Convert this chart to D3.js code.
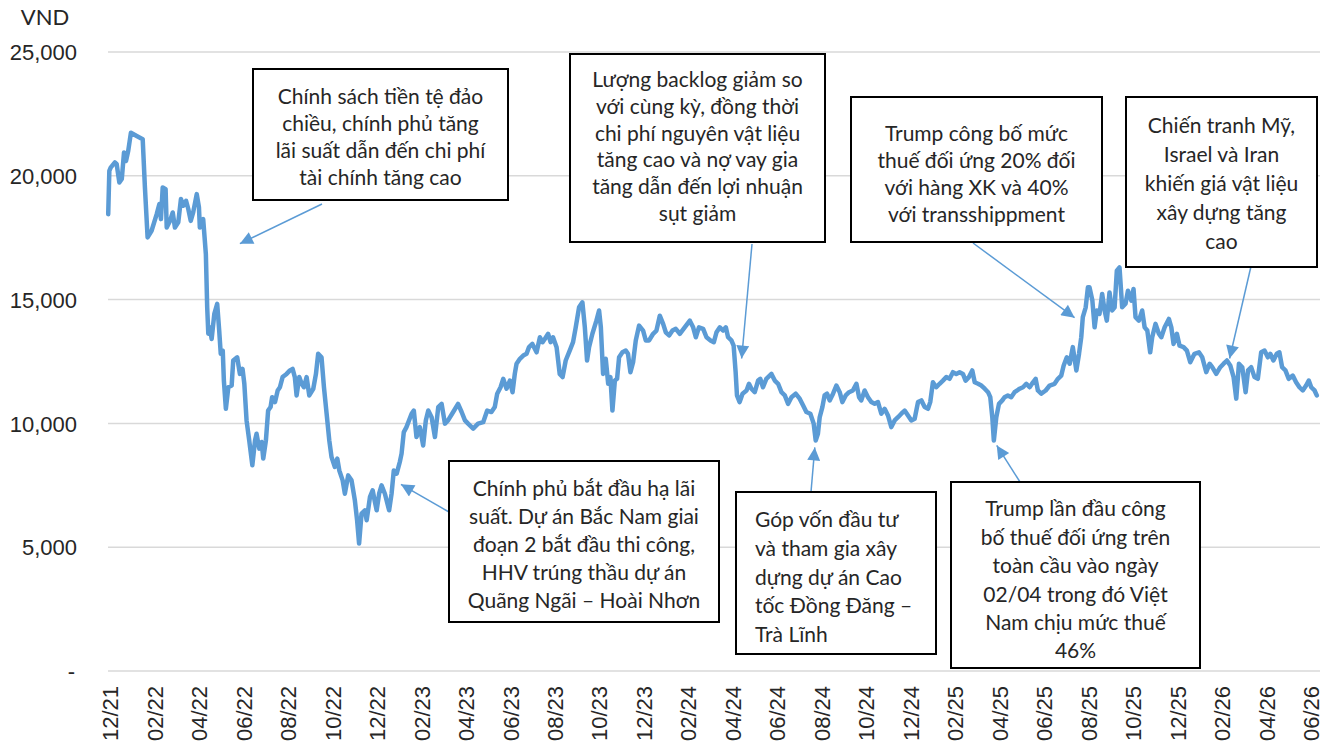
<!DOCTYPE html>
<meta charset="utf-8">
<style>
body { margin: 0; background: #fff; }
svg { font-family: Lato, "Noto Sans", sans-serif; }
.grid line { stroke: #d9d9d9; stroke-width: 1.5px; }
.price { fill: none; stroke: #5b9bd5; stroke-width: 4.5px; stroke-linejoin: round; stroke-linecap: round; }
.axis text { fill: #262626; font-size: 22px; }
.note rect { fill: #fff; stroke: #000; stroke-width: 2px; }
.note text { fill: #262626; font-size: 21px; }
.pointer { stroke: #5b9bd5; stroke-width: 1.5px; }
</style>
<svg width="1330" height="756"></svg>
<script src="https://cdnjs.cloudflare.com/ajax/libs/d3/7.8.5/d3.min.js"></script>
<script>

// months counted from 12/21, price in VND
const months = [
  -0.08, -0.03, 0.03, 0.22, 0.30, 0.42, 0.53, 0.63, 0.72, 0.82, 0.94, 1.20, 1.47, 1.57, 1.69, 1.87,
  2.10, 2.22, 2.29, 2.37, 2.50, 2.55, 2.70, 2.82, 2.92, 3.07, 3.19, 3.29, 3.42, 3.52, 3.63, 3.74,
  3.90, 4.00, 4.04, 4.19, 4.31, 4.37, 4.42, 4.49, 4.57, 4.69, 4.82, 4.91, 4.98, 5.07, 5.12, 5.21,
  5.32, 5.47, 5.54, 5.72, 5.84, 5.96, 6.04, 6.14, 6.26, 6.40, 6.52, 6.59, 6.71, 6.82, 6.89, 7.01,
  7.11, 7.22, 7.29, 7.42, 7.54, 7.64, 7.76, 7.94, 8.09, 8.21, 8.31, 8.39, 8.51, 8.62, 8.72, 8.84,
  8.96, 9.14, 9.26, 9.36, 9.51, 9.62, 9.74, 9.86, 9.96, 10.11, 10.22, 10.31, 10.46, 10.56, 10.71, 10.86,
  11.01, 11.11, 11.20, 11.31, 11.46, 11.54, 11.69, 11.81, 11.91, 11.99, 12.10, 12.21, 12.36, 12.55, 12.66, 12.76,
  12.89, 13.03, 13.11, 13.21, 13.33, 13.56, 13.66, 13.78, 13.93, 14.08, 14.20, 14.31, 14.46, 14.61, 14.76, 14.91,
  15.06, 15.20, 15.43, 15.65, 15.81, 15.96, 16.10, 16.33, 16.55, 16.78, 16.96, 17.15, 17.30, 17.41, 17.56, 17.68,
  17.83, 17.98, 18.10, 18.20, 18.28, 18.43, 18.58, 18.73, 18.84, 18.99, 19.18, 19.33, 19.45, 19.55, 19.70, 19.81,
  19.92, 20.08, 20.22, 20.35, 20.49, 20.67, 20.82, 20.94, 21.09, 21.24, 21.35, 21.45, 21.54, 21.69, 21.87, 21.99,
  22.07, 22.17, 22.29, 22.40, 22.50, 22.59, 22.70, 22.80, 22.89, 23.04, 23.19, 23.29, 23.40, 23.52, 23.64, 23.79,
  23.97, 24.09, 24.24, 24.42, 24.57, 24.72, 24.87, 24.99, 25.14, 25.29, 25.44, 25.62, 25.84, 26.07, 26.22, 26.34,
  26.48, 26.67, 26.82, 27.00, 27.15, 27.27, 27.42, 27.56, 27.69, 27.79, 27.94, 28.04, 28.13, 28.19, 28.31, 28.44,
  28.62, 28.73, 28.84, 28.99, 29.14, 29.24, 29.36, 29.51, 29.74, 29.89, 30.04, 30.19, 30.34, 30.49, 30.64, 30.83,
  31.01, 31.16, 31.31, 31.49, 31.64, 31.73, 31.83, 31.91, 32.03, 32.13, 32.24, 32.36, 32.51, 32.66, 32.81, 32.93,
  33.08, 33.23, 33.40, 33.56, 33.68, 33.78, 33.93, 34.08, 34.23, 34.38, 34.53, 34.68, 34.83, 34.98, 35.13, 35.28,
  35.43, 35.58, 35.73, 35.88, 36.03, 36.18, 36.33, 36.48, 36.63, 36.78, 36.88, 37.00, 37.15, 37.30, 37.45, 37.60,
  37.75, 37.90, 38.05, 38.20, 38.35, 38.47, 38.62, 38.77, 38.88, 39.03, 39.18, 39.33, 39.48, 39.58, 39.67, 39.74,
  39.85, 39.97, 40.12, 40.22, 40.37, 40.52, 40.67, 40.90, 41.05, 41.20, 41.35, 41.50, 41.62, 41.72, 41.87, 42.07,
  42.25, 42.47, 42.62, 42.77, 42.88, 43.02, 43.15, 43.29, 43.45, 43.57, 43.67, 43.74, 43.87, 43.97, 44.04, 44.17,
  44.27, 44.37, 44.49, 44.61, 44.72, 44.82, 44.94, 45.06, 45.17, 45.27, 45.39, 45.51, 45.66, 45.77, 45.92, 46.02,
  46.11, 46.26, 46.41, 46.52, 46.64, 46.77, 46.86, 47.01, 47.16, 47.27, 47.42, 47.61, 47.72, 47.82, 47.97, 48.09,
  48.27, 48.42, 48.57, 48.76, 48.96, 49.11, 49.29, 49.44, 49.56, 49.74, 49.92, 50.07, 50.22, 50.37, 50.52, 50.64,
  50.76, 50.91, 51.06, 51.17, 51.31, 51.46, 51.61, 51.76, 51.91, 52.06, 52.17, 52.31, 52.46, 52.58, 52.70, 52.85,
  53.00, 53.18, 53.33, 53.48, 53.63, 53.78, 53.90, 54.01, 54.16, 54.26
];

const prices = [
  18450, 20200, 20330, 20540, 20470, 19730, 19870, 20940, 20600, 21010, 21740, 21610, 21480, 19530, 17510, 17780,
  18450, 18860, 18250, 19530, 19460, 17910, 18180, 18520, 17910, 18120, 19060, 18790, 18990, 18660, 18180, 18520,
  19260, 18720, 17910, 18250, 16840, 14690, 13620, 13880, 13410, 14420, 14830, 13750, 12810, 12940, 11730, 10590,
  11460, 11530, 12540, 12670, 12000, 12200, 11600, 10120, 9310, 8310, 9310, 9580, 8980, 9250, 8580, 9310,
  10520, 10660, 11060, 10860, 11330, 11460, 11870, 12000, 12140, 12200, 11870, 11130, 11870, 11600, 11460, 11870,
  11130, 11400, 12000, 12810, 12670, 11460, 10390, 9310, 8640, 8240, 8580, 8100, 7700, 7160, 7900, 7700,
  6890, 6090, 5150, 6360, 6490, 6090, 7030, 7300, 6830, 6490, 7160, 7500, 7160, 6490, 7160, 8100,
  7970, 8440, 8780, 9650, 9850, 10390, 10520, 9450, 9850, 9110, 10120, 10520, 10250, 9450, 10660, 10790,
  9990, 10120, 10460, 10790, 10460, 10120, 9990, 9790, 9990, 10050, 10520, 10460, 10660, 11200, 11460, 11800,
  11400, 11730, 11260, 12000, 12410, 12610, 12740, 12810, 13080, 13210, 12870, 13480, 13280, 13410, 13620, 13280,
  13480, 13080, 12000, 11870, 12540, 12940, 13280, 13880, 14690, 14890, 13880, 12540, 13080, 13620, 14150, 14560,
  13880, 12000, 12610, 11600, 11870, 10520, 11730, 11800, 12670, 12870, 12940, 12810, 12070, 12470, 13350, 13950,
  13750, 13350, 13350, 13620, 13750, 14350, 14020, 13680, 13550, 13750, 13820, 13620, 13880, 14150, 13880, 13480,
  13880, 13820, 13480, 13350, 13280, 13680, 13880, 13750, 13880, 13480, 13350, 13140, 12070, 11130, 10860, 11200,
  11330, 11600, 11400, 11260, 11730, 11800, 11460, 11800, 12000, 11730, 11600, 11260, 11130, 10790, 11060, 11200,
  11000, 10730, 10460, 10390, 9990, 9310, 9580, 10250, 10660, 11130, 11200, 10930, 11200, 11530, 11260, 10860,
  11130, 11260, 11330, 11600, 11060, 10930, 11330, 11060, 10860, 10790, 10860, 10390, 10590, 10320, 9850, 10120,
  10250, 10390, 10520, 10320, 10120, 10190, 10860, 10930, 10660, 10590, 10860, 11660, 11460, 11600, 11730, 11870,
  11800, 12070, 12000, 12070, 12000, 11730, 11870, 12140, 11660, 11600, 11530, 11400, 11260, 11060, 10250, 9310,
  10250, 10790, 10930, 11060, 11130, 11060, 11260, 11400, 11460, 11600, 11460, 11660, 11800, 11330, 11200, 11330,
  11530, 11600, 11800, 11930, 12340, 12670, 12410, 13080, 12140, 12810, 13480, 14290, 14690, 15500, 15500, 14960,
  13880, 14560, 14420, 15230, 14560, 14150, 15290, 14560, 14690, 16170, 16300, 14690, 14830, 15360, 14960, 15430,
  14290, 14150, 14560, 13880, 13750, 12870, 13480, 14020, 13620, 13480, 13880, 14220, 13880, 13210, 13620, 13140,
  13080, 12940, 12470, 12810, 12870, 12670, 12070, 12410, 12270, 12000, 12270, 12410, 12540, 12340, 11870, 11000,
  12410, 12270, 11260, 12140, 12270, 11870, 11800, 12870, 12940, 12670, 12810, 12540, 12810, 12870, 12270, 12140,
  11800, 11930, 11660, 11460, 11330, 11530, 11730, 11460, 11330, 11130
];

const tickLabels = ["12/21", "02/22", "04/22", "06/22", "08/22", "10/22", "12/22",
  "02/23", "04/23", "06/23", "08/23", "10/23", "12/23", "02/24", "04/24", "06/24",
  "08/24", "10/24", "12/24", "02/25", "04/25", "06/25", "08/25", "10/25", "12/25",
  "02/26", "04/26", "06/26"];
const yTicks = [0, 5000, 10000, 15000, 20000, 25000];

// callouts: arrow tip in data units (month, price), box and arrow tail in px
const noteTexts = [
  ["Chính sách tiền tệ đảo", "chiều, chính phủ tăng", "lãi suất dẫn đến chi phí", "tài chính tăng cao"],
  ["Lượng backlog giảm so", "với cùng kỳ, đồng thời", "chi phí nguyên vật liệu", "tăng cao và nợ vay gia", "tăng dẫn đến lợi nhuận", "sụt giảm"],
  ["Trump công bố mức", "thuế đối ứng 20% đối", "với hàng XK và 40%", "với transshippment"],
  ["Chiến tranh Mỹ,", "Israel và Iran", "khiến giá vật liệu", "xây dựng tăng", "cao"],
  ["Chính phủ bắt đầu hạ lãi", "suất. Dự án Bắc Nam giai", "đoạn 2 bắt đầu thi công,", "HHV trúng thầu dự án", "Quãng Ngãi – Hoài Nhơn"],
  ["Góp vốn đầu tư", "và tham gia xây", "dựng dự án Cao", "tốc Đồng Đăng –", "Trà Lĩnh"],
  ["Trump lần đầu công", "bố thuế đối ứng trên", "toàn cầu vào ngày", "02/04 trong đó Việt", "Nam chịu mức thuế", "46%"]
];
const noteTips = [[5.84, 17260], [28.40, 12620], [43.37, 14270], [50.34, 12620], [13.08, 7540], [31.69, 9030], [39.87, 9110]];
const noteBoxes = [
  {x: 253, y: 69, w: 255, h: 131, tail: [322, 204], line: 27, top: 97, align: "middle"},
  {x: 570, y: 54, w: 255, h: 188, tail: [752, 244], line: 26.7, top: 80, align: "middle"},
  {x: 851, y: 97, w: 251, h: 145, tail: [973, 243], line: 27, top: 134, align: "middle"},
  {x: 1126, y: 97, w: 191, h: 170, tail: [1252, 262], line: 29, top: 126, align: "middle"},
  {x: 449, y: 461, w: 270, h: 161, tail: [449, 512], line: 28, top: 489, align: "middle"},
  {x: 736, y: 492, w: 200, h: 162, tail: [811, 492], line: 28.7, top: 520, align: "start", pad: 19},
  {x: 951, y: 482, w: 249, h: 186, tail: [1020, 482], line: 28.4, top: 509, align: "middle"}
];

var svg = d3.select("svg");

var x = d3.scaleLinear().domain([0, 54]).range([110, 1311]);
var y = d3.scaleLinear().domain([0, 25000]).range([671, 52]);

// gridlines
svg.append("g").attr("class", "grid")
  .selectAll("line")
  .data(yTicks)
  .enter().append("line")
    .attr("x1", 108)
    .attr("x2", 1320)
    .attr("y1", function(d) { return y(d); })
    .attr("y2", function(d) { return y(d); });

// y axis labels
var yAxis = svg.append("g").attr("class", "axis")
  .attr("transform", "translate(77,0)")
  .call(d3.axisLeft(y).tickValues(yTicks).tickSize(0).tickPadding(0)
    .tickFormat(function(d) { return d === 0 ? "-" : d3.format(",")(d); }));
yAxis.select(".domain").remove();
yAxis.selectAll("text").attr("dy", "0.35em")
  .attr("x", function(d) { return d === 0 ? -2 : 0; });

svg.append("text").attr("class", "axis")
  .attr("x", 45).attr("y", 17).attr("dy", "0.35em")
  .attr("text-anchor", "middle")
  .style("font-size", "22px").style("fill", "#262626")
  .text("VND");

// x axis labels, rotated
var xAxis = svg.append("g").attr("class", "axis")
  .attr("transform", "translate(0,686)")
  .call(d3.axisBottom(x).tickValues(d3.range(0, 55, 2)).tickSize(0).tickPadding(0)
    .tickFormat(function(d, i) { return tickLabels[i]; }));
xAxis.select(".domain").remove();
xAxis.selectAll("text")
  .attr("transform", "rotate(-90)")
  .attr("text-anchor", "end")
  .attr("x", 0)
  .attr("y", 0)
  .attr("dy", "0.35em");

// price line
var series = months.map(function(m, i) { return {m: m, v: prices[i]}; });
var line = d3.line()
  .x(function(d) { return x(d.m); })
  .y(function(d) { return y(d.v); });

svg.append("path")
  .datum(series)
  .attr("class", "price")
  .attr("d", line);

// arrowhead
svg.append("defs").append("marker")
  .attr("id", "head")
  .attr("viewBox", "0 0 10 10")
  .attr("refX", 10)
  .attr("refY", 5)
  .attr("markerUnits", "userSpaceOnUse")
  .attr("markerWidth", 15)
  .attr("markerHeight", 13)
  .attr("orient", "auto")
  .append("path")
    .attr("d", "M0,0L10,5L0,10z")
    .attr("fill", "#5b9bd5");

// callouts
var notes = svg.selectAll(".note")
  .data(noteBoxes)
  .enter().append("g")
    .attr("class", "note");

notes.append("line")
  .attr("class", "pointer")
  .attr("x1", function(d) { return d.tail[0]; })
  .attr("y1", function(d) { return d.tail[1]; })
  .attr("x2", function(d, i) { return x(noteTips[i][0]); })
  .attr("y2", function(d, i) { return y(noteTips[i][1]); })
  .attr("marker-end", "url(#head)");

notes.append("rect")
  .attr("x", function(d) { return d.x; })
  .attr("y", function(d) { return d.y; })
  .attr("width", function(d) { return d.w; })
  .attr("height", function(d) { return d.h; });

notes.each(function(d, i) {
  var g = d3.select(this);
  var tx = d.align === "start" ? d.x + d.pad : d.x + d.w / 2;
  g.selectAll("text")
    .data(noteTexts[i])
    .enter().append("text")
      .attr("x", tx)
      .attr("y", function(t, j) { return d.top + j * d.line; })
      .attr("dy", "0.35em")
      .attr("text-anchor", d.align)
      .text(function(t) { return t; });
});

</script>
